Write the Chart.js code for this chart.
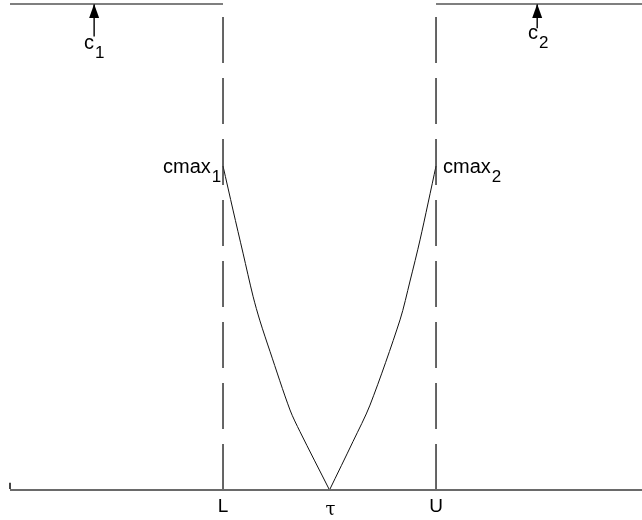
<!DOCTYPE html>
<html>
<head>
<meta charset="utf-8">
<script src="https://cdn.jsdelivr.net/npm/chart.js@4"></script>
<style>
  body { margin: 0; background: #fff; }
</style>
</head>
<body>
<canvas id="grafico" width="642" height="520"></canvas>
<script>
// posições no eixo horizontal: limite inferior, alvo e limite superior
const marcasX = [2, 3, 4];
const marcasTexto = ["L", "\u03C4", "U"];
const xMax = 5.934;

// níveis verticais
const nivelC = 1.5;
const nivelCmax = 1.0;

// ramo esquerdo da curva (de L até tau)
const ramoEsqX = [2.0, 2.094, 2.188, 2.282, 2.347, 2.441, 2.629, 2.723, 3.0];
const ramoEsqY = [1.0, 0.864, 0.731, 0.598, 0.522, 0.428, 0.247, 0.180, 0];

// ramo direito da curva (de tau até U)
const ramoDirX = [3.0, 3.221, 3.380, 3.662, 3.756, 3.850, 4.0];
const ramoDirY = [0, 0.150, 0.262, 0.525, 0.645, 0.772, 1.0];

// setas c1 e c2: posição x e base da haste
const setasX = [0.79, 4.95];
const setasBase = [1.400, 1.425];

// rótulos com subscrito: texto, subscrito, x, y (linha de base)
const rotulosTexto = ["c", "c", "cmax", "cmax"];
const rotulosSub = ["1", "2", "1", "2"];
const rotulosX = [0.695, 4.864, 1.437, 4.066];
const rotulosY = [1.360, 1.392, 0.978, 0.978];

document.addEventListener("DOMContentLoaded", function() {
  const pontos = (xs, ys) => xs.map((x, i) => ({ x: x, y: ys[i] }));

  const linha = (data, cor, largura, extra) => Object.assign({
    data: data,
    showLine: true,
    borderColor: cor,
    borderWidth: largura,
    pointRadius: 0,
    fill: false,
    clip: false
  }, extra || {});

  const datasets = [
    // eixo horizontal
    linha([{ x: 0, y: 0 }, { x: xMax, y: 0 }], "#6a6a6a", 2),
    // pequeno traço do eixo vertical
    linha([{ x: 0, y: 0.003 }, { x: 0, y: 0.022 }], "#444", 2),
    // níveis c1 e c2
    linha([{ x: 0, y: nivelC }, { x: marcasX[0], y: nivelC }], "#555", 1.5),
    linha([{ x: marcasX[2], y: nivelC }, { x: xMax, y: nivelC }], "#555", 1.5),
    // limites L e U tracejados
    linha([{ x: marcasX[0], y: 0 }, { x: marcasX[0], y: nivelC }], "#333", 1.5, { borderDash: [46, 15] }),
    linha([{ x: marcasX[2], y: 0 }, { x: marcasX[2], y: nivelC }], "#333", 1.5, { borderDash: [46, 15] }),
    // curva em V
    linha(pontos(ramoEsqX, ramoEsqY), "#111", 1, { tension: 0.3 }),
    linha(pontos(ramoDirX, ramoDirY), "#111", 1, { tension: 0.3 })
  ];

  // hastes das setas
  setasX.forEach((x, i) => {
    datasets.push(linha([{ x: x, y: setasBase[i] }, { x: x, y: nivelC }], "#111", 1.5, { seta: true }));
  });

  // desenha pontas de seta, rótulos e textos do eixo
  const textos = {
    id: "textos",
    afterDatasetsDraw(chart) {
      const ctx = chart.ctx;
      const sx = chart.scales.x, sy = chart.scales.y;
      ctx.save();
      ctx.fillStyle = "#000";

      chart.data.datasets.forEach(ds => {
        if (!ds.seta) return;
        const p = ds.data[ds.data.length - 1];
        const px = sx.getPixelForValue(p.x), py = sy.getPixelForValue(p.y);
        ctx.beginPath();
        ctx.moveTo(px, py);
        ctx.lineTo(px - 5, py + 14);
        ctx.lineTo(px + 5, py + 14);
        ctx.closePath();
        ctx.fill();
      });

      ctx.textBaseline = "alphabetic";
      ctx.textAlign = "left";
      rotulosTexto.forEach((t, i) => {
        const px = sx.getPixelForValue(rotulosX[i]);
        const py = sy.getPixelForValue(rotulosY[i]);
        ctx.font = "20px 'Liberation Sans', Arial, sans-serif";
        ctx.fillText(t, px, py);
        const w = ctx.measureText(t).width;
        ctx.font = "17px 'Liberation Sans', Arial, sans-serif";
        ctx.fillText(rotulosSub[i], px + w + 1, py + 9);
      });

      ctx.textAlign = "center";
      marcasTexto.forEach((t, i) => {
        const px = sx.getPixelForValue(marcasX[i]);
        const py = sy.getPixelForValue(0);
        if (t === "\u03C4") {
          ctx.font = "18px 'DejaVu Serif', serif";
          ctx.fillText(t, px + 1, py + 25);
        } else {
          ctx.font = "19px 'Liberation Sans', Arial, sans-serif";
          ctx.fillText(t, px, py + 22);
        }
      });
      ctx.restore();
    }
  };

  new Chart(document.getElementById("grafico"), {
    type: "scatter",
    data: { datasets: datasets },
    options: {
      responsive: false,
      animation: false,
      layout: { padding: { left: 10, right: 0, top: 4, bottom: 30 } },
      plugins: { legend: { display: false }, tooltip: { enabled: false } },
      scales: {
        x: { type: "linear", min: 0, max: xMax, display: false },
        y: { type: "linear", min: 0, max: nivelC, display: false }
      }
    },
    plugins: [textos]
  });
});
</script>
</body>
</html>
